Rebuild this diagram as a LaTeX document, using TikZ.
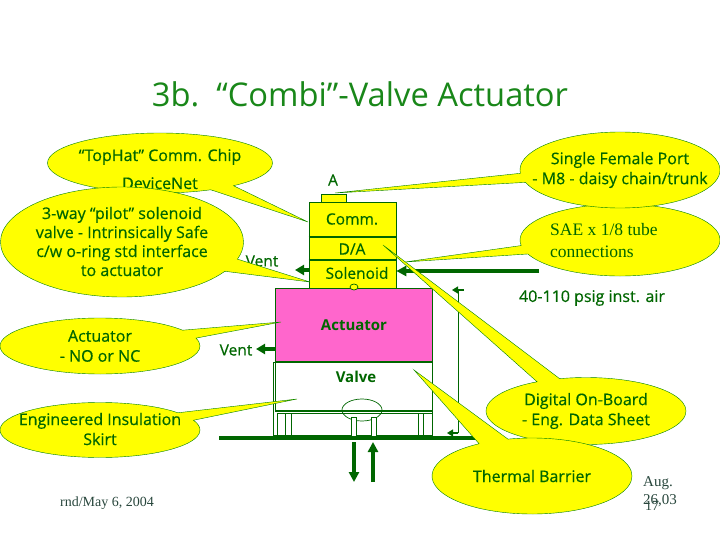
\documentclass[tikz,border=0pt]{standalone}
\usepackage{fontspec}
\setmainfont{Open Sans}
\newfontfamily\labelfont[FakeBold=0.5]{Open Sans}
\newfontfamily\notefont{Liberation Serif}
\usetikzlibrary{shapes.geometric,shapes.callouts,arrows.meta}
\definecolor{calloutyellow}{RGB}{255,255,0}
\definecolor{calloutgreen}{RGB}{0,128,0}
\definecolor{labelgreen}{RGB}{0,102,0}
\definecolor{actuatorpink}{RGB}{255,102,204}
\definecolor{titlegreen}{RGB}{25,135,25}
\definecolor{notegray}{RGB}{40,70,60}
\tikzset{
  bubble/.style={ellipse callout, draw=calloutgreen, fill=calloutyellow, inner sep=0pt},
  bubbletext/.style={text=labelgreen, align=center, inner sep=0pt, font=\labelfont\fontsize{16}{20}\selectfont},
  partlabel/.style={text=labelgreen, inner sep=0pt, font=\labelfont\fontsize{15.5}{18}\selectfont},
  boldlabel/.style={text=labelgreen, inner sep=0pt, font=\fontsize{15}{18}\bfseries\selectfont},
  note/.style={text=notegray, inner sep=0pt, font=\notefont\fontsize{14}{18}\selectfont},
  thinpart/.style={draw=labelgreen, line width=0.7pt, inner sep=0pt},
  heavyline/.style={draw=labelgreen, line width=3.5pt},
  flowarrow/.style={draw=labelgreen, line width=4pt, -{Triangle[length=10pt,width=10pt]}},
  ventarrow/.style={draw=labelgreen, line width=3.5pt, -{Triangle[length=9pt,width=10pt]}},
  smallarrow/.style={draw=labelgreen, line width=1.2pt, -{Triangle[length=6pt,width=7pt]}}
}
\begin{document}
\begin{tikzpicture}[x=1pt,y=-1pt]
  \useasboundingbox (0,0) rectangle (720,540);
  \node[text=titlegreen, font=\fontsize{32.7}{36}\selectfont] (title) at (360,94) {3b.\ \ “Combi”-Valve Actuator};
  % positioner stack
  \node[thinpart, fill=calloutyellow, minimum width=25pt, minimum height=8pt] (port) at (333.5,198) {};
  \node[thinpart, fill=calloutyellow, minimum width=87pt, minimum height=35pt] (comm) at (352.5,219.5) {};
  \node[thinpart, fill=calloutyellow, minimum width=87pt, minimum height=23pt] (da) at (352.5,248.5) {};
  \node[thinpart, fill=calloutyellow, minimum width=87pt, minimum height=28pt] (solenoid) at (352.5,274) {};
  \draw[heavyline, line width=2pt] (comm.south west) -- (comm.south east);
  \draw[heavyline, line width=2pt] (da.south west) -- (da.south east);
  \node[thinpart, fill=actuatorpink, minimum width=157pt, minimum height=74pt] (actuator) at (354,325) {};
  \node[thinpart, ellipse, fill=calloutyellow, minimum width=8pt, minimum height=6pt] (pilotseat) at (354,287) {};
  \node[thinpart, line width=1.1pt, fill=white, minimum width=157pt, minimum height=49pt] (valve) at (354,386.5) {};
  \node[thinpart, minimum width=159pt, minimum height=73pt] (skirt) at (352.5,398.5) {};
  \node[thinpart, minimum width=155pt, minimum height=24pt] (base) at (354.5,425) {};
  \node[thinpart, minimum width=6pt, minimum height=24pt] (legone) at (288,425) {};
  \node[thinpart, minimum width=5pt, minimum height=24pt] (legtwo) at (420.5,425) {};
  \node[thinpart, ellipse, minimum width=40pt, minimum height=22pt] (plug) at (362,410) {};
  \node[thinpart, fill=white, minimum width=5pt, minimum height=20pt] (stemone) at (354,427) {};
  \node[thinpart, fill=white, minimum width=5pt, minimum height=20pt] (stemtwo) at (373.5,427) {};
  % labels
  \node[partlabel] (labela) at (333,180) {A};
  \node[partlabel] (labelcomm) at (352,219) {Comm.};
  \node[partlabel] (labelda) at (352,249) {D/A};
  \node[partlabel] (labelsol) at (357,273) {Solenoid};
  \node[boldlabel] (labelact) at (354,325) {Actuator};
  \node[boldlabel] (labelvalve) at (356,377) {Valve};
  \node[partlabel] (ventone) at (262,261) {Vent};
  \node[partlabel] (venttwo) at (236,350) {Vent};
  \node[partlabel, font=\labelfont\fontsize{16}{18}\selectfont] (airlabel) at (592,298) {40-110 psig inst. air};
  % air lines and flow
  \coordinate (busl) at (219,438);
  \coordinate (busr) at (490,438);
  \draw[heavyline] (busl) -- (busr);
  \coordinate (flowend) at (354,482);
  \coordinate (flowstart) at (373,482);
  \draw[flowarrow] (354,442) -- (flowend);
  \draw[flowarrow] (flowstart) -- (373,442);
  \coordinate (airin) at (539,271);
  \draw[flowarrow] (airin) -- (solenoid.east |- airin);
  \coordinate (venta) at (295,270);
  \draw[ventarrow] (solenoid.west |- venta) -- (venta);
  \coordinate (ventb) at (256,349);
  \draw[ventarrow] (actuator.west |- ventb) -- (ventb);
  \coordinate (linetop) at (458,290);
  \coordinate (linebot) at (458,433);
  \coordinate (teetop) at (452,290);
  \coordinate (teebot) at (447,433);
  \draw[thinpart] (linetop) -- (linebot);
  \draw[smallarrow] (464,290) -- (teetop);
  \draw[smallarrow] (linebot) -- (teebot);
  % callouts
  \node[bubble, minimum width=225pt, minimum height=60pt, callout absolute pointer={(308,222)}, callout pointer arc=14] (tophat) at (160,163) {};
  \node[bubbletext] (tophattext) at (160,169) {“TopHat” Comm. Chip\\[8pt]DeviceNet};
  \node[bubble, minimum width=243pt, minimum height=110pt, callout absolute pointer={(310,282)}, callout pointer arc=14] (pilot) at (122,242) {};
  \node[bubbletext, font=\labelfont\fontsize{16}{19}\selectfont] (pilottext) at (122,241.5) {3-way “pilot” solenoid\\valve - Intrinsically Safe\\c/w o-ring std interface\\to actuator};
  \node[bubble, minimum width=200pt, minimum height=56pt, callout absolute pointer={(281,322)}, callout pointer arc=18] (actbubble) at (100,346) {};
  \node[bubbletext] (acttext) at (100,346) {Actuator\\- NO or NC};
  \node[bubble, minimum width=200pt, minimum height=55pt, callout absolute pointer={(297,399)}, callout pointer arc=18] (skirtbubble) at (100,430) {};
  \node[bubbletext] (skirttext) at (100,429) {Engineered Insulation\\Skirt};
  \node[bubble, minimum width=200pt, minimum height=72pt, callout absolute pointer={(405,262)}, callout pointer arc=14] (sae) at (620,240) {};
  \node[bubbletext, anchor=west, align=left, font=\notefont\fontsize{17.5}{22}\selectfont] (saetext) at (550,241) {SAE x 1/8 tube\\connections};
  \node[bubble, minimum width=200pt, minimum height=76pt, callout absolute pointer={(335,193)}, callout pointer arc=14] (female) at (620,170) {};
  \node[bubbletext] (femaletext) at (620,170) {Single Female Port\\- M8 - daisy chain/trunk};
  \node[bubble, minimum width=200pt, minimum height=67pt, callout absolute pointer={(383,245)}, callout pointer arc=14] (digital) at (586,411) {};
  \node[bubbletext] (digitaltext) at (586,411) {Digital On-Board\\- Eng. Data Sheet};
  \node[bubble, minimum width=200pt, minimum height=76pt, callout absolute pointer={(414,370)}, callout pointer arc=18] (thermal) at (532,476) {};
  \node[bubbletext] (thermaltext) at (532,476) {Thermal Barrier};
  % footer
  \node[note] (footer) at (107,503) {rnd/May 6, 2004};
  \node[note, align=left, anchor=north west, font=\notefont\fontsize{15}{18.5}\selectfont] (datenote) at (643,476) {Aug.\\26,03};
  \node[note] (pagenum) at (652,506) {17};
\end{tikzpicture}
\end{document}
